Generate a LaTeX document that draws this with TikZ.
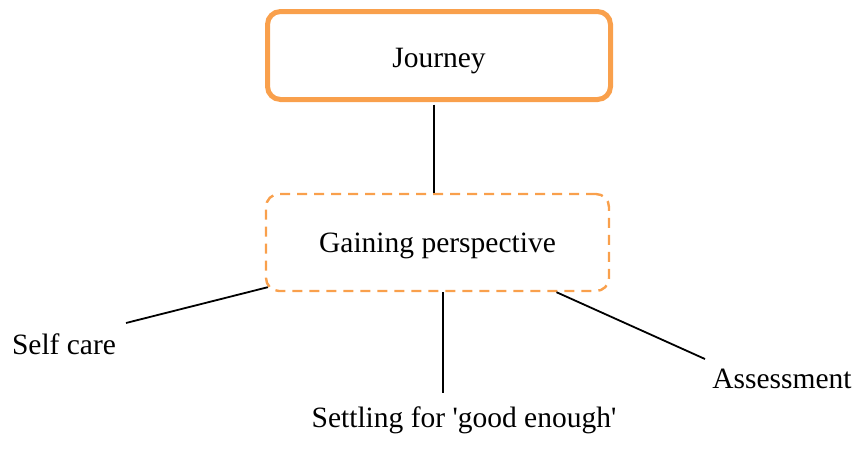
\documentclass[tikz,border=0pt]{standalone}
\usepackage{fontspec}
\newfontfamily\diagfont{Liberation Serif}
\usetikzlibrary{calc}
\definecolor{boxorange}{RGB}{249,160,76}
\begin{document}
\begin{tikzpicture}[x=1pt,y=-1pt,
  every node/.style={font=\diagfont\fontsize{29.5}{34}\selectfont, text=black},
  mainbox/.style={draw=boxorange, line width=5pt, rounded corners=13pt,
    minimum width=343pt, minimum height=88pt, inner sep=0pt},
  subbox/.style={draw=boxorange, line width=2.4pt, rounded corners=13pt,
    dash pattern=on 10pt off 7pt,
    minimum width=343pt, minimum height=97pt, inner sep=0pt},
  leaf/.style={anchor=base, inner sep=0pt},
  link/.style={draw=black, line width=1.8pt}]
\useasboundingbox (0,0) rectangle (855,450);

% boxes
\node[mainbox] (journey) at (439,55.5) {};
\node[subbox] (gain) at (437.5,242.5) {};
\node[leaf] (journeyt) at (439,67) {Journey};
\node[leaf] (gaint) at (437.5,252) {Gaining perspective};

% leaf labels
\node[leaf] (self) at (64,354) {Self care};
\node[leaf] (settle) at (464,427) {Settling for 'good enough'};
\node[leaf] (assess) at (782,388) {Assessment};

% free ends of the lower connectors
\coordinate (selfend) at (126,323);
\coordinate (settleend) at (443,393);
\coordinate (assessend) at (705,359);

% connectors
\draw[link] ($(journey.south)+(-5,2.5)$) -- ($(gain.north)+(-3.5,0)$);
\draw[link] ($(gain.south west)+(3,-5)$) -- (selfend);
\draw[link] (gain.south -| settleend) -- (settleend);
\draw[link] ($(gain.south)+(119,0)$) -- (assessend);
\end{tikzpicture}
\end{document}
